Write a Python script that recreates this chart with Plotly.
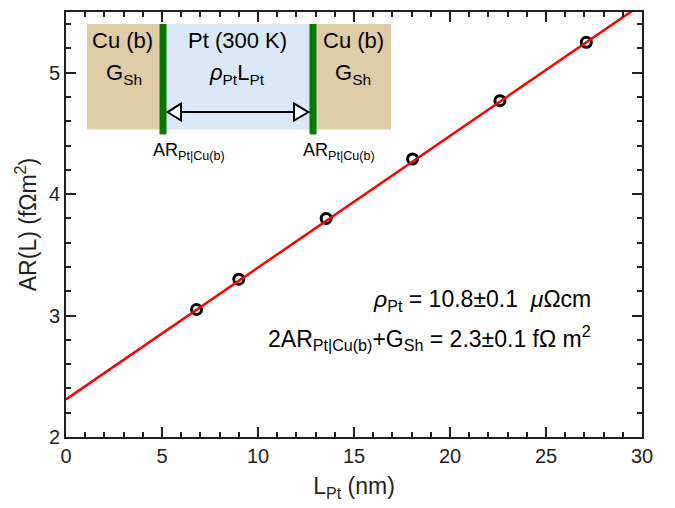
import plotly.graph_objects as go

# ---- data ----
L_pt = [6.8, 9.0, 13.55, 18.05, 22.6, 27.1]
AR_L = [3.05, 3.30, 3.80, 4.29, 4.77, 5.25]
fit_intercept = 2.31
fit_slope = 0.1085
fit_x = [0, 30]
fit_y = [fit_intercept + fit_slope * x for x in fit_x]

x_ticks = [0, 5, 10, 15, 20, 25, 30]
y_ticks = [2, 3, 4, 5]

FONT = "Liberation Sans, Arial, Helvetica, sans-serif"
INK = "#231f20"

# plot-area geometry (pixels) -> data helpers for decorations
L, R, T, B = 66, 642, 10, 437
XR = (0, 30)
YR = (2, 5.5)
def dx(p):
    return XR[0] + (p - L) / (R - L) * (XR[1] - XR[0])
def dy(p):
    return YR[0] + (B - p) / (B - T) * (YR[1] - YR[0])

fig = go.Figure()

fig.add_trace(go.Scatter(
    x=L_pt, y=AR_L, mode="markers",
    marker=dict(symbol="circle-open", size=10, color="black", line=dict(width=3, color="black")),
    showlegend=False, cliponaxis=False))
fig.add_trace(go.Scatter(
    x=fit_x, y=fit_y, mode="lines",
    line=dict(color="#ff0000", width=2.5), showlegend=False))

shapes = []
tan = "#e0cba7"
blue = "#dbe8f8"
green = "#007a00"
shapes.append(dict(type="rect", xref="x", yref="y", x0=dx(87), x1=dx(160), y0=dy(128), y1=dy(22),
                   fillcolor=tan, line=dict(width=0), layer="above"))
shapes.append(dict(type="rect", xref="x", yref="y", x0=dx(166), x1=dx(310), y0=dy(128), y1=dy(22),
                   fillcolor=blue, line=dict(width=0), layer="above"))
shapes.append(dict(type="rect", xref="x", yref="y", x0=dx(316), x1=dx(391), y0=dy(128), y1=dy(22),
                   fillcolor=tan, line=dict(width=0), layer="above"))
shapes.append(dict(type="rect", xref="x", yref="y", x0=dx(159.5), x1=dx(166.5), y0=dy(133), y1=dy(22),
                   fillcolor=green, line=dict(width=0), layer="above"))
shapes.append(dict(type="rect", xref="x", yref="y", x0=dx(309.5), x1=dx(316.5), y0=dy(133), y1=dy(22),
                   fillcolor=green, line=dict(width=0), layer="above"))
shapes.append(dict(type="line", xref="x", yref="y", x0=dx(180), x1=dx(294), y0=dy(110.5), y1=dy(110.5),
                   line=dict(color="black", width=2), layer="above"))
def tri(tip, base, yc, h):
    return (f"M {dx(tip)},{dy(yc)} L {dx(base)},{dy(yc - h)} L {dx(base)},{dy(yc + h)} Z")
shapes.append(dict(type="path", xref="x", yref="y", path=tri(167.5, 181, 110.5, 8.5),
                   fillcolor="white", line=dict(color="black", width=2), layer="above"))
shapes.append(dict(type="path", xref="x", yref="y", path=tri(308.5, 294, 110.5, 8.5),
                   fillcolor="white", line=dict(color="black", width=2), layer="above"))

def ann(text, px, py, size=22, xanchor="center"):
    return dict(text=text, x=dx(px), y=dy(py), xref="x", yref="y", showarrow=False,
                xanchor=xanchor, yanchor="middle", font=dict(family=FONT, size=size, color="black"))

annotations = [
    ann("Cu (b)", 122, 39),
    ann("G<sub>Sh</sub>", 124, 72),
    ann("Pt (300 K)", 237, 39),
    ann("<i>ρ</i><sub>Pt</sub>L<sub>Pt</sub>", 237, 72),
    ann("Cu (b)", 353, 39),
    ann("G<sub>Sh</sub>", 353, 72),
    ann("AR<sub>Pt|Cu(b)</sub>", 151, 150, size=18, xanchor="left"),
    ann("AR<sub>Pt|Cu(b)</sub>", 301, 150, size=18, xanchor="left"),
    ann("<i>ρ</i><sub>Pt</sub> = 10.8±0.1  <i>μ</i>Ωcm", 593, 300, size=23, xanchor="right"),
    ann("2AR<sub>Pt|Cu(b)</sub>+G<sub>Sh</sub> = 2.3±0.1 fΩ m<sup>2</sup>", 593, 338, size=23, xanchor="right"),
]

axis_common = dict(
    showline=True, linecolor=INK, linewidth=2, mirror="ticks",
    ticks="inside", ticklen=10, tickwidth=2, tickcolor=INK,
    showgrid=False, zeroline=False,
    tickfont=dict(family=FONT, size=20, color=INK),
)

fig.update_layout(
    width=675, height=508,
    margin=dict(l=L, r=675 - R, t=T, b=508 - B),
    plot_bgcolor="white", paper_bgcolor="white",
    xaxis=dict(range=list(XR), tickvals=x_ticks, ticktext=[str(v) for v in x_ticks],
               minor=dict(ticks="inside", ticklen=5, tickwidth=2, tickcolor=INK, dtick=1, showgrid=False),
               title=dict(text="L<sub>Pt</sub> (nm)", font=dict(family=FONT, size=23, color=INK), standoff=12),
               **axis_common),
    yaxis=dict(range=list(YR), tickvals=y_ticks, ticktext=[str(v) for v in y_ticks],
               minor=dict(ticks="inside", ticklen=5, tickwidth=2, tickcolor=INK, dtick=0.2, showgrid=False),
               title=dict(text="AR(L) (fΩm<sup>2</sup>)", font=dict(family=FONT, size=23, color=INK), standoff=6),
               **axis_common),
    shapes=shapes,
    annotations=annotations,
    showlegend=False,
)

fig.write_html("out.html", config={"displayModeBar": False},
               post_script="document.body.style.margin='0px';")
